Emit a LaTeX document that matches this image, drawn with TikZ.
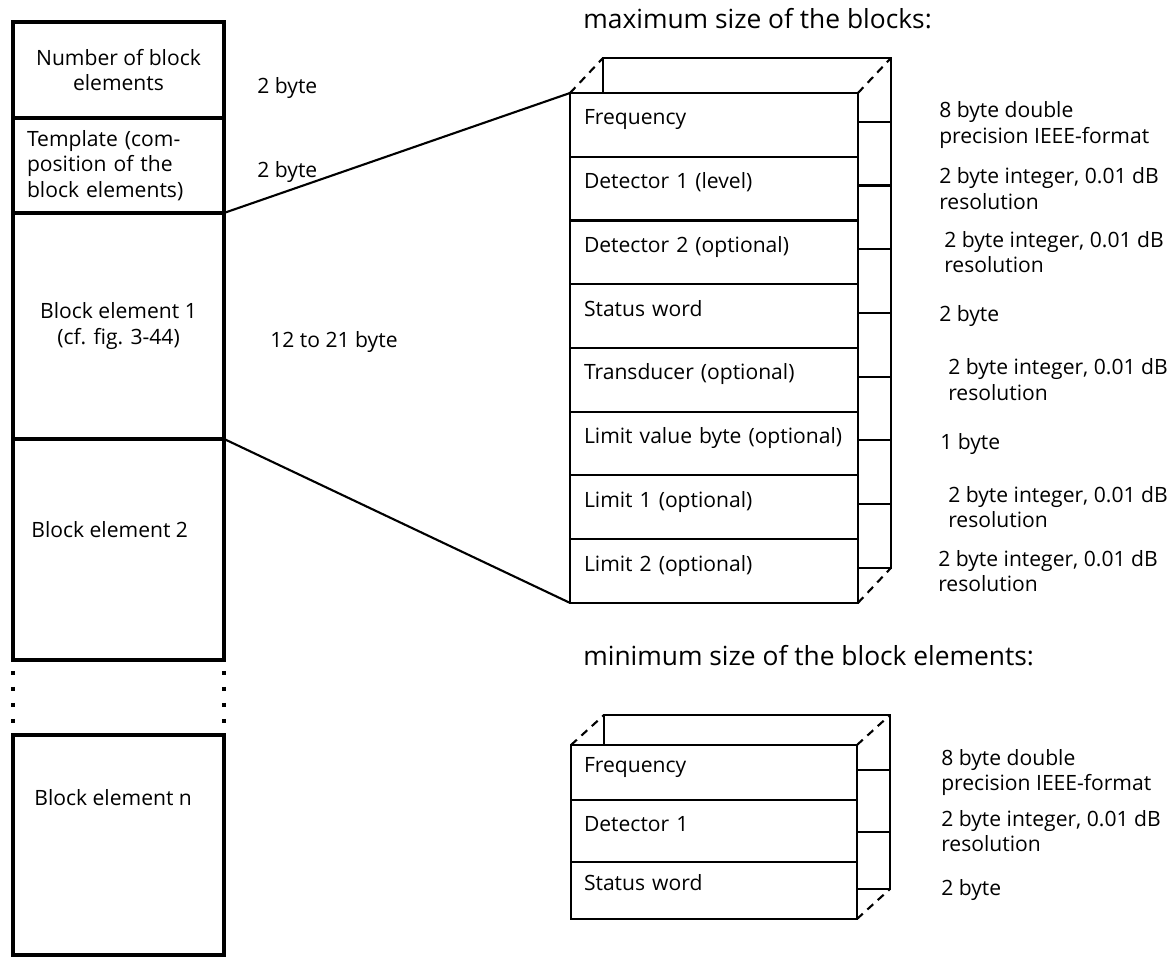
\documentclass[tikz,border=0pt]{standalone}
\usepackage{fontspec}
\setmainfont{Open Sans}
\usetikzlibrary{positioning}

\begin{document}
\begin{tikzpicture}[
  x=0.02cm, y=-0.02cm,
  every node/.style={font=\fontsize{12}{14.5}\selectfont},
  blk/.style={draw, line width=2.4pt, rectangle, outer sep=0pt, inner sep=0pt,
              minimum width=4.22cm, anchor=north},
  cell/.style={draw, line width=1.2pt, rectangle, outer sep=0pt,
               inner xsep=0.26cm, inner ysep=0pt, text width=5.2cm, align=left,
               text height=8pt, text depth=8pt},
  bigcell/.style={cell, minimum width=5.76cm, minimum height=1.275cm},
  side/.style={line width=1.2pt},
  recede/.style={line width=1.2pt, dash pattern=on 4.5pt off 3.5pt},
  link/.style={line width=1.2pt},
  dots/.style={line width=2.3pt, dash pattern=on 2.3pt off 6.8pt},
  note/.style={anchor=west, inner sep=0pt, align=left},
  head/.style={font=\fontsize{15}{18}\selectfont, anchor=base west, inner sep=0pt},
]
\useasboundingbox (0,0) rectangle (1168,957);

%% ── Block layout (left column) ───────────────────────────────────────────────
\node[blk, minimum height=1.92cm, align=center] (nblk) at (118.5,22)
  {Number of block\\elements};
\node[blk, minimum height=1.9cm, text width=3.66cm, align=left,
      below=0pt of nblk] (tmpl)
  {Template (com-\\position of the\\block elements)};
\node[blk, minimum height=4.52cm, align=center, below=0pt of tmpl] (elem1)
  {Block element 1\\(cf. fig. 3-44)};
\node[blk, minimum height=4.42cm, below=0pt of elem1] (elem2) {};
\node[blk, minimum height=4.4cm, below=1.5cm of elem2] (elemn) {};
\node[note] (e2txt) at ([shift={(18,-20)}]elem2.west) {Block element 2};
\node[note] (entxt) at ([shift={(21,-47)}]elemn.west) {Block element n};

%% gap between element 2 and element n
\draw[dots] ([yshift=-0.22cm]elem2.south west) -- ([yshift=0.22cm]elemn.north west);
\draw[dots] ([yshift=-0.22cm]elem2.south east) -- ([yshift=0.22cm]elemn.north east);

%% sizes
\node[note] (nbsz) at (257,88) {2 byte};
\node[note] (tpsz) at (257,172) {2 byte};
\node[note] (e1sz) at (270,342) {12 to 21 byte};

%% ── Maximum block element ────────────────────────────────────────────────────
\node[head] (maxhd) at (583,28) {maximum size of the blocks:};

\node[bigcell, anchor=north west] (fr1) at (570,93) {Frequency};
\node[bigcell, below=0pt of fr1] (fr2) {Detector 1 (level)};
\node[bigcell, below=0pt of fr2] (fr3) {Detector 2 (optional)};
\node[bigcell, below=0pt of fr3] (fr4) {Status word};
\node[bigcell, below=0pt of fr4] (fr5) {Transducer (optional)};
\node[bigcell, below=0pt of fr5] (fr6) {Limit value byte (optional)};
\node[bigcell, below=0pt of fr6] (fr7) {Limit 1 (optional)};
\node[bigcell, below=0pt of fr7] (fr8) {Limit 2 (optional)};

%% back face and side
\draw[side] ([shift={(33,0)}]fr1.north west) -- ([shift={(33,-35)}]fr1.north west)
  -- ([shift={(33,-35)}]fr1.north east) -- ([shift={(33,-35)}]fr8.south east)
  -- ([shift={(0,-35)}]fr8.south east);
\draw[side] ([shift={(0,-35)}]fr1.south east) -- ([shift={(33,-35)}]fr1.south east);
\draw[side] ([shift={(0,-35)}]fr2.south east) -- ([shift={(33,-35)}]fr2.south east);
\draw[side] ([shift={(0,-35)}]fr3.south east) -- ([shift={(33,-35)}]fr3.south east);
\draw[side] ([shift={(0,-35)}]fr4.south east) -- ([shift={(33,-35)}]fr4.south east);
\draw[side] ([shift={(0,-35)}]fr5.south east) -- ([shift={(33,-35)}]fr5.south east);
\draw[side] ([shift={(0,-35)}]fr6.south east) -- ([shift={(33,-35)}]fr6.south east);
\draw[side] ([shift={(0,-35)}]fr7.south east) -- ([shift={(33,-35)}]fr7.south east);
\draw[recede] (fr1.north west) -- ++(33,-35);
\draw[recede] (fr1.north east) -- ++(33,-35);
\draw[recede] (fr8.south east) -- ++(33,-35);

%% field formats
\node[note, right=1.62cm of fr1] (fm1) {8 byte double\\precision IEEE-format};
\node[note, right=1.62cm of fr2] (fm2) {2 byte integer, 0.01 dB\\resolution};
\node[note, right=1.72cm of fr3] (fm3) {2 byte integer, 0.01 dB\\resolution};
\node[note, right=1.62cm of fr4] (fm4) {2 byte};
\node[note, right=1.8cm of fr5] (fm5) {2 byte integer, 0.01 dB\\resolution};
\node[note, right=1.64cm of fr6] (fm6) {1 byte};
\node[note, right=1.8cm of fr7] (fm7) {2 byte integer, 0.01 dB\\resolution};
\node[note, right=1.6cm of fr8] (fm8) {2 byte integer, 0.01 dB\\resolution};

%% zoom lines from block element 1
\draw[link] (tmpl.south east) -- (fr1.north west);
\draw[link] (elem1.south east) -- (fr8.south west);

%% ── Minimum block element ────────────────────────────────────────────────────
\node[head] (minhd) at (583,665) {minimum size of the block elements:};

\node[cell, minimum width=5.72cm, minimum height=1.1cm, anchor=north west]
  (sr1) at (571,745) {Frequency};
\node[cell, minimum width=5.72cm, minimum height=1.24cm, below=0pt of sr1]
  (sr2) {Detector 1};
\node[cell, minimum width=5.72cm, minimum height=1.14cm, below=0pt of sr2]
  (sr3) {Status word};

\draw[side] ([shift={(33,0)}]sr1.north west) -- ([shift={(33,-30)}]sr1.north west)
  -- ([shift={(33,-30)}]sr1.north east) -- ([shift={(33,-30)}]sr3.south east)
  -- ([shift={(0,-30)}]sr3.south east);
\draw[side] ([shift={(0,-30)}]sr1.south east) -- ([shift={(33,-30)}]sr1.south east);
\draw[side] ([shift={(0,-30)}]sr2.south east) -- ([shift={(33,-30)}]sr2.south east);
\draw[recede] (sr1.north west) -- ++(33,-30);
\draw[recede] (sr1.north east) -- ++(33,-30);
\draw[recede] (sr3.south east) -- ++(33,-30);

\node[note, right=1.68cm of sr1] (sm1) {8 byte double\\precision IEEE-format};
\node[note, right=1.68cm of sr2] (sm2) {2 byte integer, 0.01 dB\\resolution};
\node[note, right=1.68cm of sr3] (sm3) {2 byte};

\end{tikzpicture}
\end{document}
